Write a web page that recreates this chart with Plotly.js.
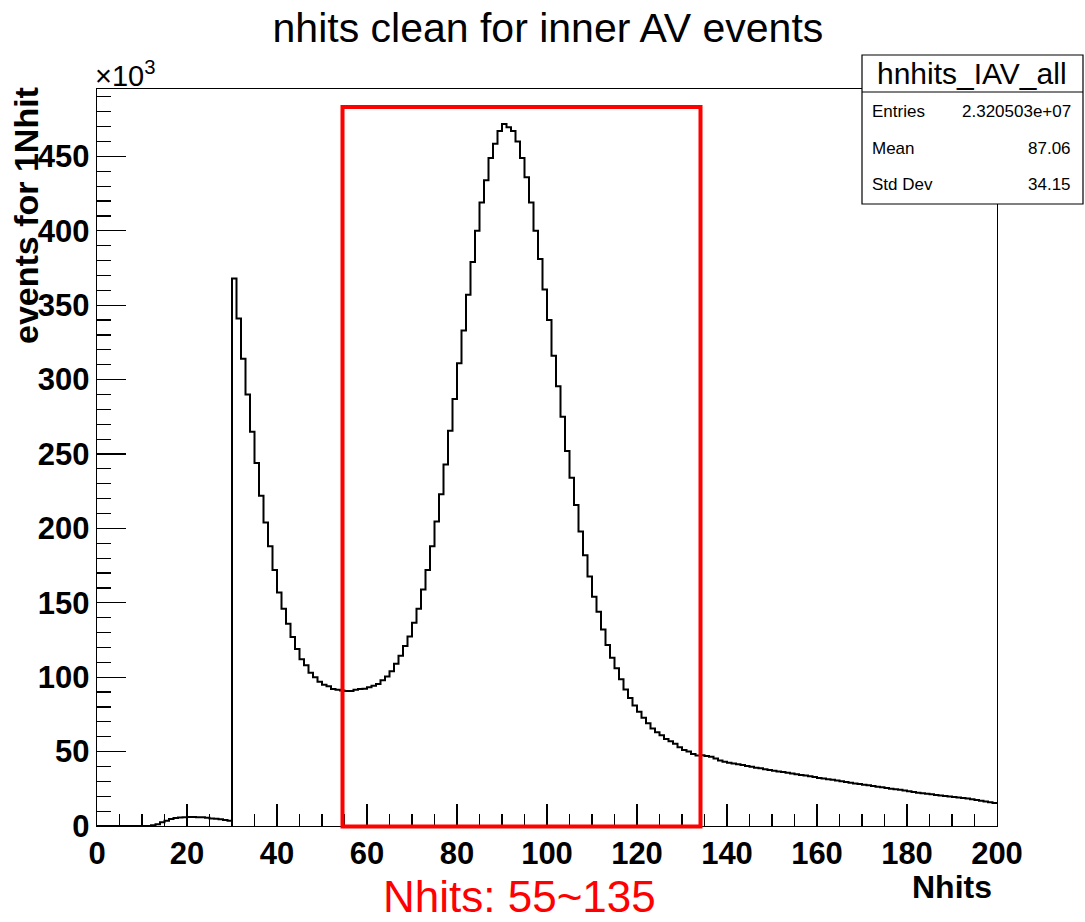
<!DOCTYPE html>
<html>
<head>
<meta charset="utf-8">
<script src="https://cdn.plot.ly/plotly-3.0.1.min.js"></script>
<style>html,body{margin:0;padding:0;background:#fff;}#chart{width:1085px;height:922px;}</style>
</head>
<body>
<div id="chart"></div>
<script>
// ---- data (events per 1-Nhit bin, in units of 10^3) ----
const binLow = 0;
const binWidth = 1;
const countsK = [
  0,0,0,0,0,0,0,0,0,0,                 // 0-9
  0,0,0.5,1.2,2.5,3.6,4.7,5.4,5.7,5.9,  // 10-19
  6.0,6.0,5.9,5.8,5.6,5.0,4.8,4.6,4.0,3.6, // 20-29
  368,341,314,290,265,244,222,204,188,172, // 30-39
  157,146,136,127,119,112,108,103,100,97,  // 40-49
  95,94,92,91.5,91,90.8,90.8,91.5,92,92.3, // 50-59
  93.3,94.2,95.5,98,100.5,104,109,114.5,121,127.4, // 60-69
  136.6,146,159,172,188,204.6,223,243,265.6,287,   // 70-79
  311,333,357,379,400,419,434,449,458.5,467,       // 80-89
  471.8,469.6,467,460,449,436,419,400,381,360.5,   // 90-99
  340,316,295.6,275,252,234,215.7,198,182,167.6,   // 100-109
  154,144,132,121.7,113,106,98.7,91.7,86,81,       // 110-119
  76.8,72.7,69,65.5,63,61,58.5,57,55.3,53,         // 120-129
  51,50,48.4,47.4,47.5,47,46.5,45.3,44,43.2,       // 130-139
  42.5,42,41.5,41,40.4,39.8,39.2,38.8,38.1,37.6,   // 140-149
  37.2,36.7,36.3,35.8,35.2,34.8,34.3,33.9,33.5,32.9, // 150-159
  32.3,31.9,31.4,31,30.6,30.1,29.6,29.1,28.6,28.2, // 160-169
  27.8,27.4,26.9,26.4,26,25.5,25.1,24.7,24.3,23.8, // 170-179
  23.3,22.8,22.4,22,21.6,21.3,20.9,20.5,20.2,19.8, // 180-189
  19.5,19.2,18.8,18.4,18,17.5,17,16.5,16,15.5      // 190-199
];
const titleText = "nhits clean for inner AV events";
const xTitle = "Nhits";
const yTitle = "events for 1Nhit";
const histName = "hnhits_IAV_all";
const statLabels = ["Entries", "Mean", "Std Dev"];
const statValues = ["2.320503e+07", "87.06", "34.15"];
const selLabel = "Nhits: 55~135";

// ---- step outline from bin edges ----
const edges = [], stepY = [];
for (let i = 0; i < countsK.length; i++) { edges.push(binLow + i * binWidth); stepY.push(countsK[i]); }
edges.push(binLow + countsK.length * binWidth); stepY.push(countsK[countsK.length - 1]);

// ---- pixel -> paper helpers (layout geometry) ----
const W = 1085, H = 922;
const mL = 97, mR = 88, mT = 89, mB = 96;
const pw = W - mL - mR, ph = H - mT - mB;
const px = v => (v - mL) / pw;
const py = v => (H - mB - v) / ph;

const FONT = "Liberation Sans, Arial, Helvetica, sans-serif";

const trace = {
  type: "scatter", mode: "lines",
  x: edges, y: stepY,
  line: { shape: "hv", color: "#000", width: 2 },
  hoverinfo: "skip", showlegend: false
};

const annotations = [
  { text: yTitle, textangle: -90, xref: "paper", yref: "paper", x: px(26), y: py(216),
    xanchor: "center", yanchor: "middle", showarrow: false,
    font: { family: FONT, size: 34, color: "#000", weight: "bold" } },
  { text: "×10<sup>3</sup>", xref: "paper", yref: "paper", x: px(93), y: py(74),
    xanchor: "left", yanchor: "middle", showarrow: false,
    font: { family: FONT, size: 29, color: "#000" } },
  { text: xTitle, xref: "paper", yref: "paper", x: px(994), y: py(887),
    xanchor: "right", yanchor: "middle", showarrow: false,
    font: { family: FONT, size: 32, color: "#000", weight: "bold" } },
  { text: selLabel, xref: "paper", yref: "paper", x: px(519), y: py(896),
    xanchor: "center", yanchor: "middle", showarrow: false,
    font: { family: FONT, size: 44, color: "#ff0000" } },
  { text: histName, xref: "paper", yref: "paper", x: px(972), y: py(73),
    xanchor: "center", yanchor: "middle", showarrow: false,
    font: { family: FONT, size: 30, color: "#000" } }
];
const rowY = [112, 149, 185];
for (let i = 0; i < statLabels.length; i++) {
  annotations.push({ text: statLabels[i], xref: "paper", yref: "paper", x: px(870), y: py(rowY[i]),
    xanchor: "left", yanchor: "middle", showarrow: false,
    font: { family: FONT, size: 17, color: "#000" } });
  annotations.push({ text: statValues[i], xref: "paper", yref: "paper", x: px(1073), y: py(rowY[i]),
    xanchor: "right", yanchor: "middle", showarrow: false,
    font: { family: FONT, size: 17, color: "#000" } });
}

const shapes = [
  // hand-drawn selection box as placed in the reference (px 342..700, top 107)
  { type: "rect", xref: "paper", yref: "paper", x0: px(342.5), x1: px(700.5), y0: py(826.5), y1: py(107),
    line: { color: "#ff0000", width: 4 }, fillcolor: "rgba(0,0,0,0)", layer: "above" },
  { type: "rect", xref: "paper", yref: "paper", x0: px(862), x1: px(1083), y0: py(204), y1: py(55),
    line: { color: "#000", width: 1.2 }, fillcolor: "#fff", layer: "above" },
  { type: "line", xref: "paper", yref: "paper", x0: px(862), x1: px(1083), y0: py(92), y1: py(92),
    line: { color: "#000", width: 1.2 }, layer: "above" }
];

const tickFont = { family: FONT, size: 31, color: "#000", weight: "bold" };

const layout = {
  width: W, height: H,
  margin: { l: mL, r: mR, t: mT, b: mB, pad: 0 },
  paper_bgcolor: "#fff", plot_bgcolor: "#fff",
  title: { text: titleText, x: 0.505, xanchor: "center", y: 1 - 28 / H, yanchor: "middle",
           yref: "container", font: { family: FONT, size: 41, color: "#000" } },
  xaxis: {
    range: [0, 200], tick0: 0, dtick: 20, ticks: "inside", ticklen: 22, tickwidth: 1.2, tickcolor: "#000",
    showline: true, linecolor: "#000", linewidth: 1.2, mirror: true,
    showgrid: false, zeroline: false, tickfont: tickFont,
    minor: { dtick: 5, ticks: "inside", ticklen: 12, tickwidth: 1.2, tickcolor: "#000", showgrid: false }
  },
  yaxis: {
    range: [0, 495.3], tick0: 0, dtick: 50, ticks: "inside", ticklen: 29, tickwidth: 1.2, tickcolor: "#000",
    showline: true, linecolor: "#000", linewidth: 1.2, mirror: true,
    showgrid: false, zeroline: false, tickfont: tickFont,
    minor: { dtick: 10, ticks: "inside", ticklen: 14, tickwidth: 1.2, tickcolor: "#000", showgrid: false }
  },
  annotations: annotations,
  shapes: shapes
};

Plotly.newPlot("chart", [trace], layout, { staticPlot: true, displayModeBar: false });
</script>
</body>
</html>
